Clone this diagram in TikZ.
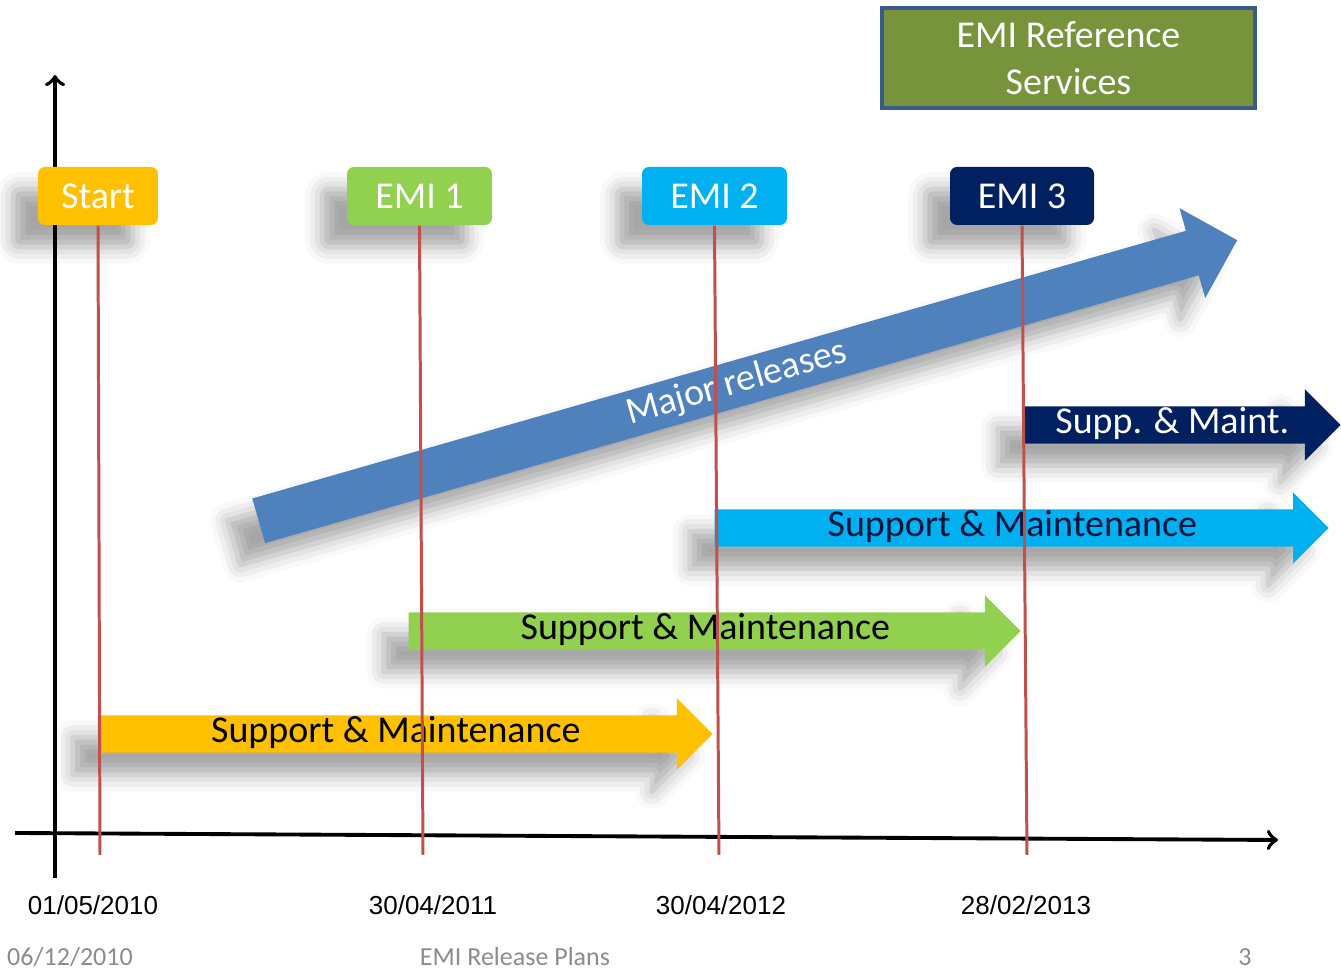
\documentclass[tikz,border=0pt]{standalone}
\usepackage{fontspec}
\setmainfont{Carlito}
\newfontfamily\datefont{Liberation Sans}
\usetikzlibrary{shapes.arrows,shadows.blur}

\definecolor{emiyellow}{HTML}{FFC000}
\definecolor{emigreen}{HTML}{92D050}
\definecolor{emicyan}{HTML}{00B0F0}
\definecolor{eminavy}{HTML}{002060}
\definecolor{emiblue}{HTML}{4F81BD}
\definecolor{emiolive}{HTML}{77933C}
\definecolor{emiframe}{HTML}{3B5A8A}
\definecolor{emired}{HTML}{C0504D}
\definecolor{footgrey}{HTML}{8C8C8C}

\tikzset{
  castshadow/.style={blur shadow={shadow xshift=-0.25cm, shadow yshift=-0.22cm,
      shadow blur radius=0.17cm, shadow opacity=35}},
  bigtext/.style={font=\fontsize{10.8}{13}\selectfont},
  release/.style={castshadow, bigtext, rounded corners=2pt, minimum height=0.58cm,
      text=white, inner sep=0pt},
  supp/.style={castshadow, bigtext, single arrow, single arrow head extend=0.17cm,
      inner xsep=0pt, inner ysep=0.02cm, text height=0.25cm, text depth=0.07cm,
      anchor=tail},
  redline/.style={emired, line width=0.85pt},
  axis/.style={line width=1.1pt, ->},
  datelabel/.style={font=\datefont\fontsize{7.4}{9}\selectfont},
  footlabel/.style={text=footgrey, font=\fontsize{7.4}{9}\selectfont}
}

\begin{document}
\begin{tikzpicture}
      \useasboundingbox (0,0) rectangle (13.41,9.70);
      % \draw[help lines] (0,0) grid (13,9);
      % axes
      \draw[axis] (0.55,0.92) -- (0.55,8.95);
      \draw[axis] (0.15,1.37) -- (12.78,1.30);
      % reference box
      \node[draw=emiframe, line width=1.4pt, fill=emiolive, text=white, bigtext,
            minimum width=3.73cm, minimum height=1.00cm, align=center]
            (ref) at (10.685,9.12) {EMI Reference\\[0.02cm]Services};
      % release labels
      \node[release, fill=emiyellow, minimum width=1.20cm] (start) at (0.98,7.74) {Start};
      \node[release, fill=emigreen, minimum width=1.45cm] (emi1) at (4.195,7.74) {EMI 1};
      \node[release, fill=emicyan, minimum width=1.45cm] (emi2) at (7.145,7.74) {EMI 2};
      \node[release, fill=eminavy, minimum width=1.44cm] (emi3) at (10.22,7.74) {EMI 3};
      % major releases
      \node[supp, fill=emiblue, text=white, rotate=16, minimum height=10.18cm,
            text height=0.28cm, text depth=0.09cm, inner ysep=0.04cm,
            single arrow head extend=0.235cm] (major) at (2.58,4.49) {Major releases};
      % support and maintenance
      \node[supp, fill=emiyellow, minimum height=6.15cm] (sm0) at (0.97,2.36) {Support \& Maintenance};
      \node[supp, fill=emigreen, minimum height=6.12cm] (sm1) at (4.08,3.39) {Support \& Maintenance};
      \node[supp, fill=emicyan, text=eminavy!60!black, minimum height=6.14cm] (sm2) at (7.14,4.42) {Support \& Maintenance};
      \node[supp, fill=eminavy, text=white, minimum height=3.18cm] (sm3) at (10.22,5.45) {Supp. \& Maint.};
      % time lines
      \coordinate (t0) at (1.00,1.15);
      \coordinate (t1) at (4.23,1.15);
      \coordinate (t2) at (7.19,1.15);
      \coordinate (t3) at (10.27,1.15);
      \draw[redline] (start.south) -- (t0);
      \draw[redline] (emi1.south) -- (t1);
      \draw[redline] (emi2.south) -- (t2);
      \draw[redline] (emi3.south) -- (t3);
      % dates
      \node[datelabel] (d0) at (0.93,0.65) {01/05/2010};
      \node[datelabel] (d1) at (4.33,0.65) {30/04/2011};
      \node[datelabel] (d2) at (7.21,0.65) {30/04/2012};
      \node[datelabel] (d3) at (10.26,0.65) {28/02/2013};
      % footer
      \node[footlabel] (fdate) at (0.70,0.13) {06/12/2010};
      \node[footlabel] (ftitle) at (5.15,0.13) {EMI Release Plans};
      \node[footlabel] (fpage) at (12.45,0.13) {3};
\end{tikzpicture}
\end{document}
